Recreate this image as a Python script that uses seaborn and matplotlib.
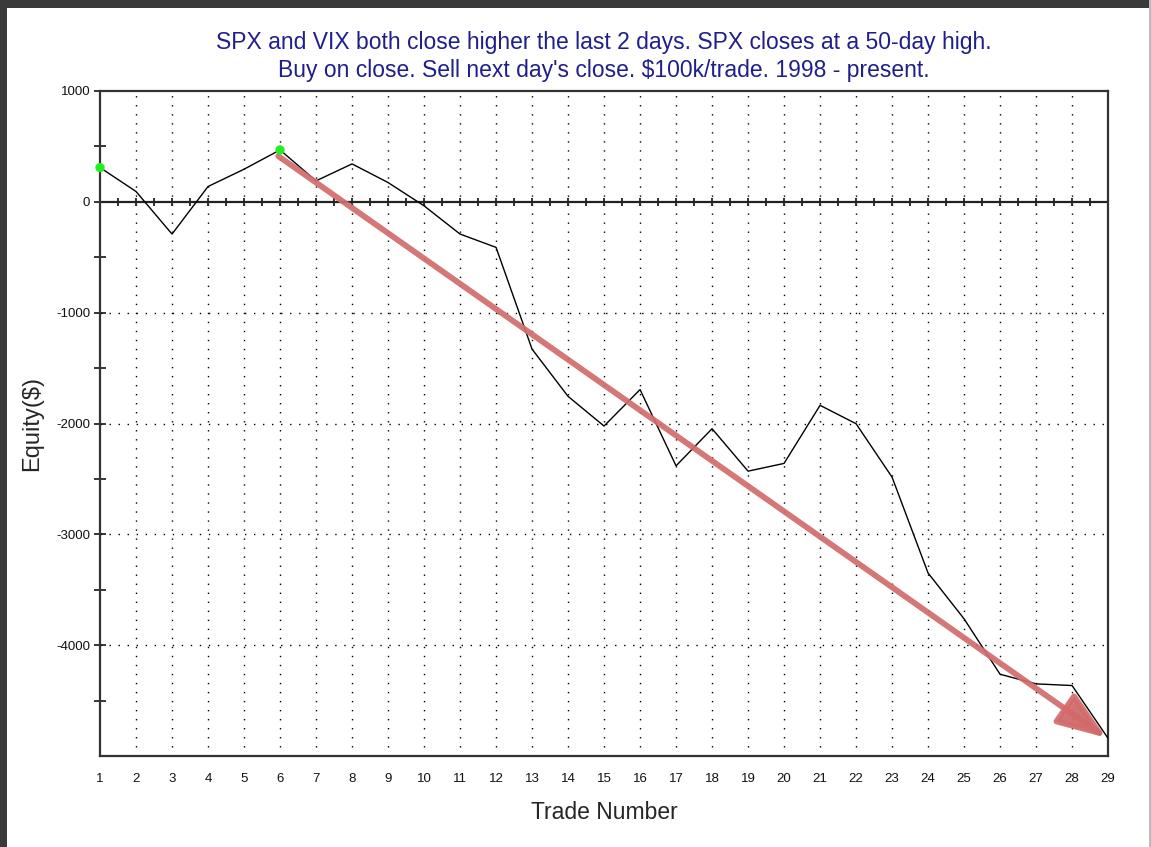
import numpy as np
import pandas as pd
import seaborn as sns
import matplotlib.pyplot as plt
import matplotlib.patheffects as pe
from matplotlib.patches import Rectangle

trades = list(range(1, 30))
equity = [309, 93, -291, 138, 294, 468, 189, 342, 174, -36, -291, -411, -1329,
          -1755, -2023, -1694, -2382, -2047, -2430, -2360, -1836, -2002, -2484,
          -3349, -3762, -4262, -4349, -4364, -4840]

title_lines = ["SPX and VIX both close higher the last 2 days. SPX closes at a 50-day high.",
               "Buy on close. Sell next day's close. $100k/trade. 1998 - present."]
y_ticks = [1000, 0, -1000, -2000, -3000, -4000]

df = pd.DataFrame({'trade': trades, 'equity': equity})
# new equity highs get the green dots
df['new_high'] = df['equity'] >= df['equity'].cummax()
highs = df[df['new_high']]

sns.set_style('white')
plt.rcParams['font.family'] = ['Liberation Sans', 'DejaVu Sans']
plt.rcParams['axes.unicode_minus'] = False

fig = plt.figure(figsize=(11.51, 8.47), dpi=100)
ax = fig.add_axes([0.0869, 0.1074, 0.9627 - 0.0869, 0.8926 - 0.1074])

# dotted grid
dots = (0, (1, 5.5))
for t in trades[1:-1]:
    ax.axvline(t, color='black', lw=1.0, ls=dots, zorder=1)
for v in y_ticks[2:]:
    ax.axhline(v, color='black', lw=1.0, ls=dots, zorder=1)

# zero line with cross ticks every half trade
ax.axhline(0, color='#222222', lw=1.6, zorder=2)
half = np.arange(trades[0], trades[-1] + 0.01, 0.5)
ax.plot(half, np.zeros_like(half), ls='none', marker='|', ms=6, mew=1.3,
        color='#222222', zorder=2)

sns.lineplot(data=df, x='trade', y='equity', color='black', lw=1.0, ax=ax, zorder=3)
sns.scatterplot(data=highs, x='trade', y='equity', color='#22ee22', s=45,
                edgecolor='none', ax=ax, zorder=5, clip_on=False)

# trend arrow
arr = ax.annotate('', xy=(trades[-1] - 0.05, equity[-1] + 5),
                  xytext=(trades[5] - 0.05, equity[5] - 55),
                  arrowprops=dict(arrowstyle='-|>,head_length=1.5,head_width=0.55',
                                  mutation_scale=20, color='#d36b6b', lw=4.2,
                                  shrinkA=0, shrinkB=0, alpha=0.92),
                  zorder=4)
arr.arrow_patch.set_path_effects([pe.SimplePatchShadow(offset=(2, -2), alpha=0.25),
                                  pe.Normal()])

ax.set_xlim(trades[0], trades[-1])
ax.set_ylim(-5000, 1000)
ax.set_xticks(trades)
ax.set_xticklabels([str(t) for t in trades])
ax.set_yticks(y_ticks)
ax.set_yticks(np.arange(-4500, 1000, 1000), minor=True)
ax.tick_params(axis='x', length=0, pad=12, labelsize=9.5, labelcolor='#111111')
ax.tick_params(axis='y', which='major', direction='inout', length=8, width=1.3,
               pad=3, labelsize=9.5, labelcolor='#111111', left=True)
ax.tick_params(axis='y', which='minor', direction='inout', length=8, width=1.3, left=True)

for s in ax.spines.values():
    s.set_color('#333333')
    s.set_linewidth(1.6)

ax.set_xlabel('Trade Number', fontsize=16.5, labelpad=12)
ax.set_ylabel('Equity($)', fontsize=17, labelpad=9.5)
ax.set_title('\n'.join(title_lines), fontsize=16.5, color='#1f1f8c', pad=10,
             linespacing=1.3)

# screenshot frame
fig.add_artist(Rectangle((0, 0), 0.0065, 1, transform=fig.transFigure,
                         color='#3a3a3a', lw=0))
fig.add_artist(Rectangle((0, 0.991), 1, 0.009, transform=fig.transFigure,
                         color='#3a3a3a', lw=0))
fig.add_artist(Rectangle((0.9985, 0), 0.0015, 1, transform=fig.transFigure,
                         color='#bbbbbb', lw=0))

fig.savefig('out.png', dpi=100)
